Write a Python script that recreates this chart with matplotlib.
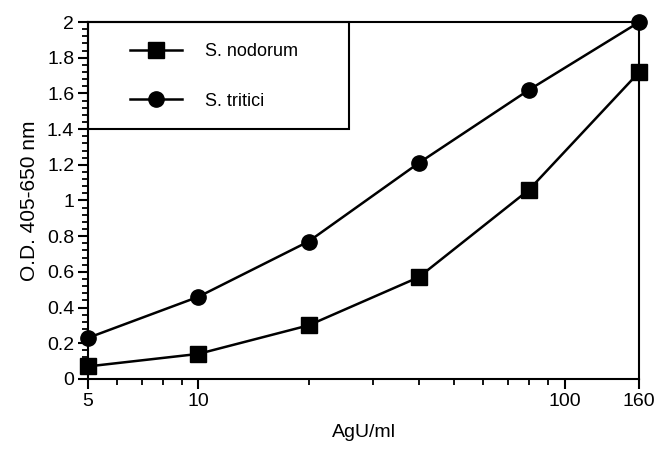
import matplotlib
matplotlib.use("Agg")
import matplotlib.pyplot as plt
from matplotlib.patches import Rectangle
from matplotlib.ticker import FixedLocator, FixedFormatter, MultipleLocator, NullFormatter, FuncFormatter

plt.rcParams['font.family'] = ['Liberation Sans', 'DejaVu Sans']

conc = [5, 10, 20, 40, 80, 160]
nodorum = [0.07, 0.14, 0.30, 0.57, 1.06, 1.72]
tritici = [0.23, 0.46, 0.77, 1.21, 1.62, 2.00]
xticks = [5, 10, 100, 160]
xtick_labels = ["5", "10", "100", "160"]
xminor = [6, 7, 8, 9, 20, 30, 40, 50, 60, 70, 80, 90]

fig = plt.figure(figsize=(6.57, 4.5), dpi=100)
ax = fig.add_axes([0.134, 0.158, 0.839, 0.793])

ax.plot(conc, nodorum, color='black', lw=1.8, marker='s', ms=11, clip_on=False, label='S. nodorum', zorder=3)
ax.plot(conc, tritici, color='black', lw=1.8, marker='o', ms=11, clip_on=False, label='S. tritici', zorder=3)

ax.set_xscale('log')
ax.set_xlim(5, 160)
ax.set_ylim(0, 2)
ax.xaxis.set_major_locator(FixedLocator(xticks))
ax.xaxis.set_major_formatter(FixedFormatter(xtick_labels))
ax.xaxis.set_minor_locator(FixedLocator(xminor))
ax.xaxis.set_minor_formatter(NullFormatter())
ax.yaxis.set_major_locator(MultipleLocator(0.2))
ax.yaxis.set_minor_locator(MultipleLocator(0.04))
ax.yaxis.set_major_formatter(FuncFormatter(lambda v, p: ('%g' % round(v, 1))))

ax.tick_params(which='major', direction='out', length=7, width=1.5, labelsize=14, pad=3)
ax.tick_params(which='minor', direction='out', length=4, width=1.3)
ax.tick_params(top=False, right=False, which='both')
for s in ax.spines.values():
    s.set_linewidth(1.5)

ax.set_xlabel('AgU/ml', fontsize=14, labelpad=10)
ax.set_ylabel('O.D. 405-650 nm', fontsize=15, labelpad=6)

# legend frame
ax.add_patch(Rectangle((0.0, 0.7), 0.474, 0.3, transform=ax.transAxes, fill=False,
                       edgecolor='black', linewidth=1.5, zorder=4, clip_on=False))
leg = ax.legend(loc='upper left', bbox_to_anchor=(0.076, 0.941),
                frameon=False, fontsize=13, handlelength=2.9,
                borderpad=0, labelspacing=1.8, handletextpad=1.25, borderaxespad=0)

fig.savefig('out.png', dpi=100)
